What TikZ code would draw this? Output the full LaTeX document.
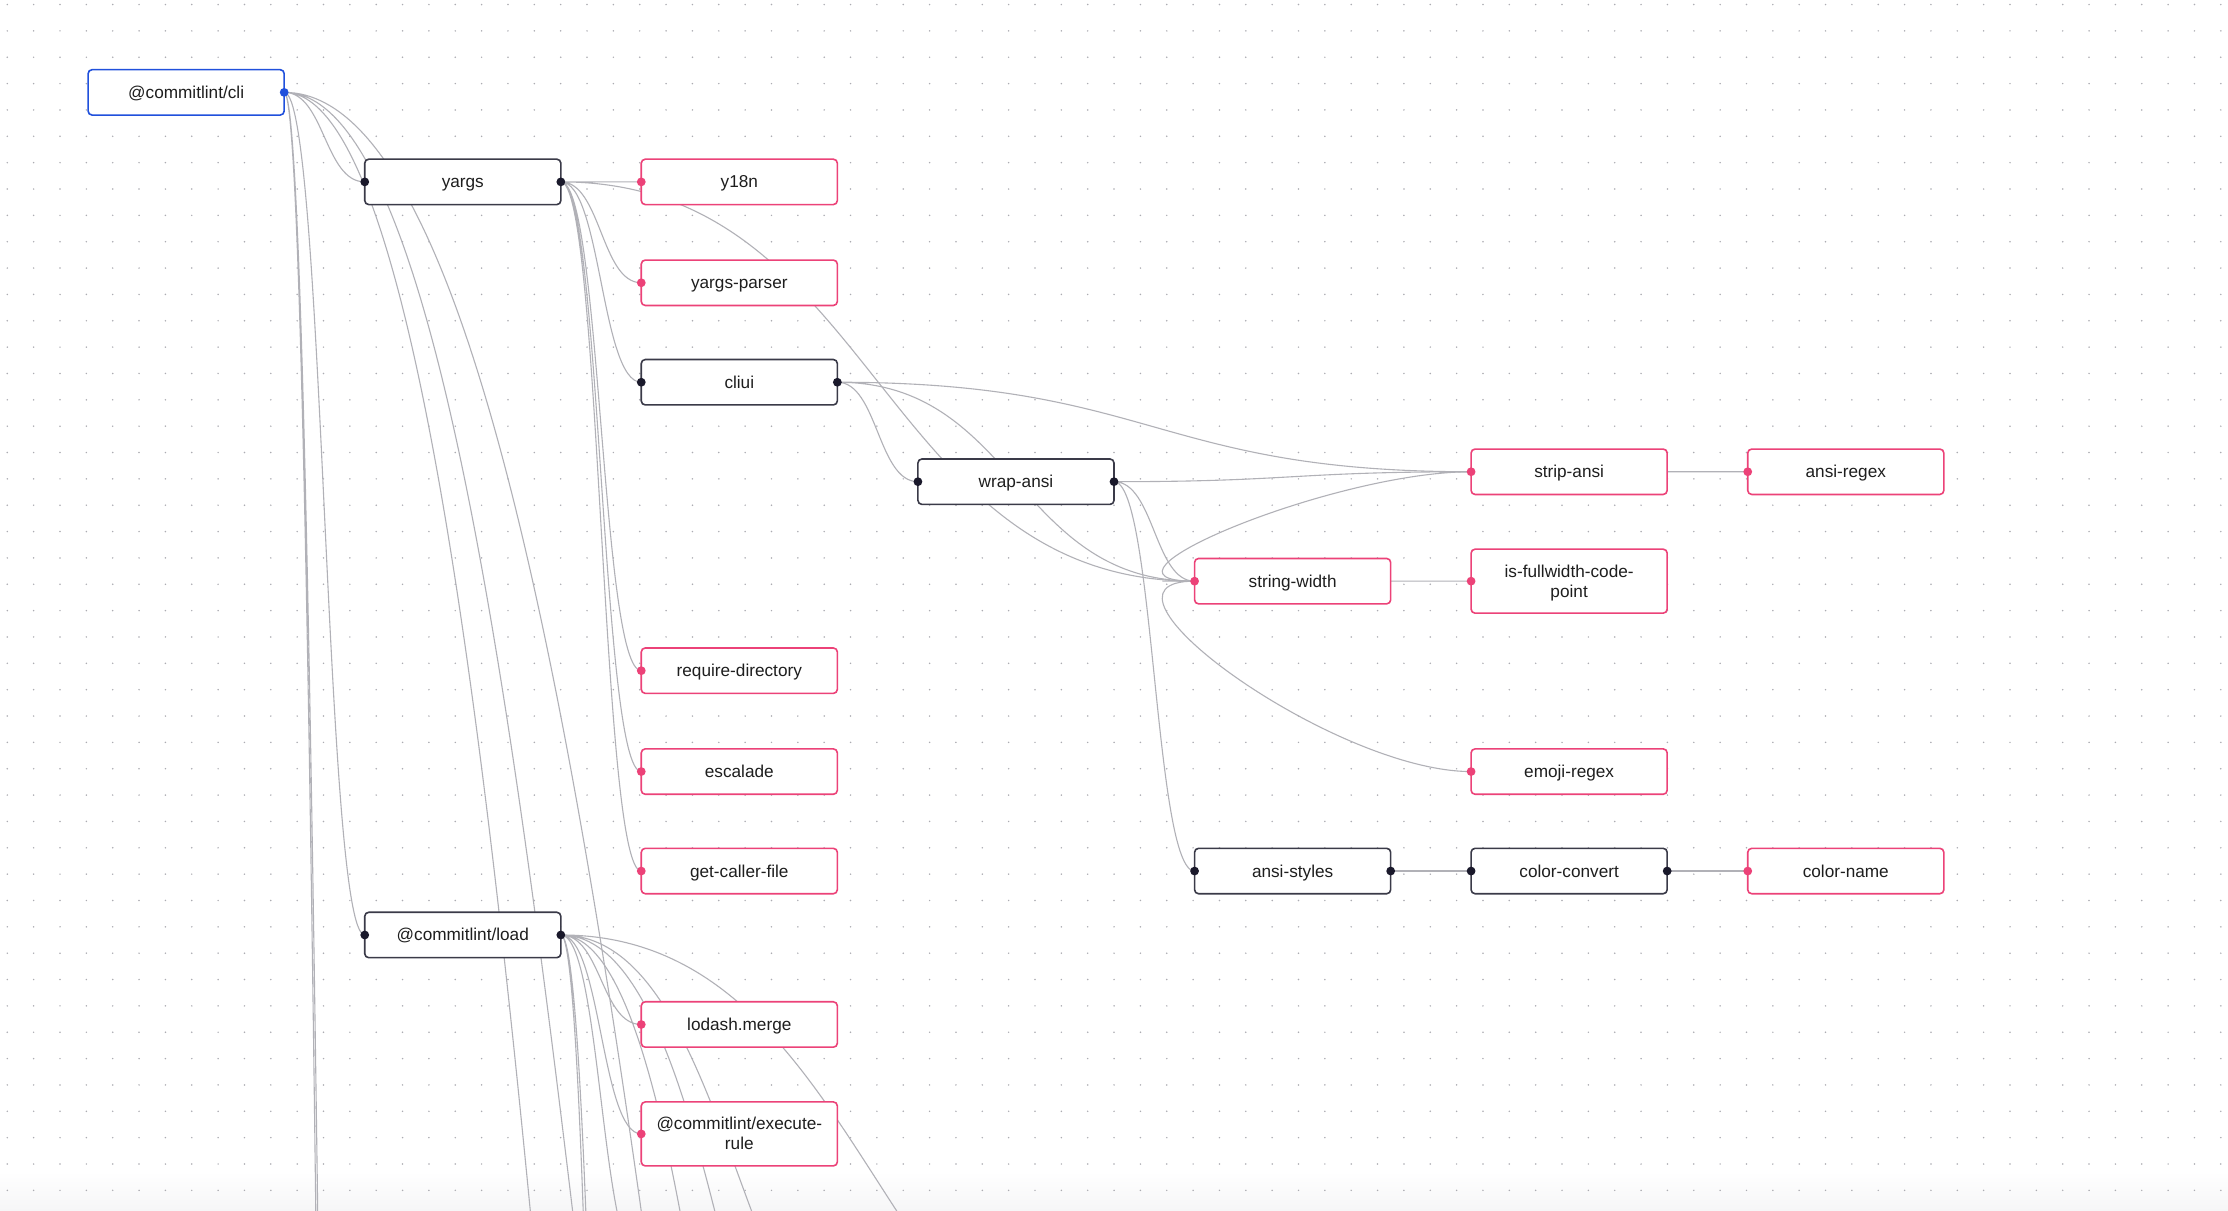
\documentclass[tikz,border=0pt]{standalone}
\usepackage{fontspec}
\setmainfont{Liberation Sans}
\usetikzlibrary{calc}

\definecolor{edgegray}{RGB}{177,177,183}
\definecolor{pinkline}{RGB}{236,66,120}
\definecolor{darkline}{RGB}{58,58,72}
\definecolor{handledark}{RGB}{26,25,43}
\definecolor{blueline}{RGB}{32,80,220}
\definecolor{gridgray}{RGB}{172,172,178}
\definecolor{labeltext}{RGB}{30,30,30}
\definecolor{fadegray}{RGB}{246,246,247}

% invisible struts that fix the top and bottom of a two-line label
\newcommand\labeltop{\rule{0pt}{7.8pt}}
\newcommand\labelbottom{\rule[-1.8pt]{0pt}{1.8pt}}

\pgfdeclarelayer{canvas}
\pgfdeclarelayer{links}
\pgfsetlayers{canvas,links,main}

\begin{document}
\begin{tikzpicture}[x=0.7105pt,y=-0.7105pt,
  pkg/.style={draw, line width=0.8pt, rounded corners=2pt, fill=white,
    minimum width=98.05pt, minimum height=22.7pt, inner sep=0pt, outer sep=0pt,
    font=\fontsize{8.6}{10}\selectfont, text=labeltext, align=center,
    text height=7.8pt, text depth=1.8pt},
  leaf/.style={pkg, draw=pinkline},
  inner/.style={pkg, draw=darkline},
  root/.style={pkg, draw=blueline},
  tall/.style={minimum height=32pt, text height={}, text depth={}},
  dep/.style={draw=edgegray, line width=0.55pt},
  % bezier link leaving the right handle, entering the left handle
  rf/.style={to path={let \p1=(\tikztostart), \p2=(\tikztotarget) in
    .. controls ({0.5*(\x1+\x2)},\y1) and ({0.5*(\x1+\x2)},\y2) .. (\tikztotarget)}},
  % bezier link leaving a left handle, entering the left handle
  rfl/.style={to path={let \p1=(\tikztostart), \p2=(\tikztotarget) in
    .. controls ({\x1-6.25*sqrt(0.7105*(\x2-\x1))},\y1) and ({0.5*(\x1+\x2)},\y2) .. (\tikztotarget)}},
  hdark/.style={fill=handledark},
  hpink/.style={fill=pinkline},
  hblue/.style={fill=blueline},
]
\useasboundingbox (0,0) rectangle (1568,852);

% canvas: white ground, dotted grid, soft fade at the lower edge
\begin{pgfonlayer}{canvas}
  \fill[white] (0,0) rectangle (1568,852);
  \shade[top color=white, bottom color=fadegray] (0,824) rectangle (1568,852);
  \foreach \i in {0,...,84}{
    \foreach \j in {0,...,45}{
      \fill[gridgray] ({5.14+18.545*\i},{3.2+18.545*\j}) circle (0.42pt);
    }
  }
\end{pgfonlayer}

% packages
\node[root] (cli) at (131,65) {@commitlint/cli};
\node[inner] (yargs) at (325.7,128) {yargs};
\node[leaf] (y18n) at (520.3,128) {y18n};
\node[leaf] (yparser) at (520.3,199) {yargs-parser};
\node[inner] (cliui) at (520.3,269) {cliui};
\node[inner] (wrap) at (715,339) {wrap-ansi};
\node[leaf] (strip) at (1104.3,332) {strip-ansi};
\node[leaf] (aregex) at (1299,332) {ansi-regex};
\node[leaf] (swidth) at (909.7,409) {string-width};
\node[leaf,tall] (isfw) at (1104.3,409) {\labeltop is-fullwidth-code-\\point\labelbottom};
\node[leaf] (reqdir) at (520.3,472) {require-directory};
\node[leaf] (escalade) at (520.3,543) {escalade};
\node[leaf] (gcf) at (520.3,613) {get-caller-file};
\node[leaf] (emoji) at (1104.3,543) {emoji-regex};
\node[inner] (astyles) at (909.7,613) {ansi-styles};
\node[inner] (cconv) at (1104.3,613) {color-convert};
\node[leaf] (cname) at (1299,613) {color-name};
\node[inner] (load) at (325.7,658) {@commitlint/load};
\node[leaf] (lmerge) at (520.3,721) {lodash.merge};
\node[leaf,tall] (exrule) at (520.3,798) {\labeltop @commitlint/execute-\\rule\labelbottom};

% far ends of links that continue below the visible area
\coordinate (cliFarA) at (256.7,2730);
\coordinate (cliFarB) at (256.7,2400);
\coordinate (cliFarC) at (646,2790);
\coordinate (cliFarD) at (646,1980);
\coordinate (cliFarE) at (840.7,2730);
\coordinate (loadFarA) at (451.3,890);
\coordinate (loadFarB) at (451.3,1780);
\coordinate (loadFarC) at (451.3,2100);
\coordinate (loadFarD) at (646,1000);
\coordinate (loadFarE) at (646,1190);
\coordinate (loadFarF) at (646,1610);
\coordinate (loadFarG) at (840.7,1005);

% dependency links
\begin{pgfonlayer}{links}
  \path[dep]
    (cli.east) to[rf] (yargs.west)
    (cli.east) to[rf] (load.west)
    (cli.east) to[rf] (cliFarA)
    (cli.east) to[rf] (cliFarB)
    (cli.east) to[rf] (cliFarC)
    (cli.east) to[rf] (cliFarD)
    (cli.east) to[rf] (cliFarE);
  \path[dep]
    (yargs.east) to[rf] (y18n.west)
    (yargs.east) to[rf] (yparser.west)
    (yargs.east) to[rf] (cliui.west)
    (yargs.east) to[rf] (swidth.west)
    (yargs.east) to[rf] (reqdir.west)
    (yargs.east) to[rf] (escalade.west)
    (yargs.east) to[rf] (gcf.west);
  \path[dep]
    (cliui.east) to[rf] (wrap.west)
    (cliui.east) to[rf] (strip.west)
    (cliui.east) to[rf] (swidth.west);
  \path[dep]
    (wrap.east) to[rf] (strip.west)
    (wrap.east) to[rf] (swidth.west)
    (wrap.east) to[rf] (astyles.west);
  \path[dep]
    (swidth.west) to[rfl] (strip.west)
    (swidth.west) to[rfl] (isfw.west)
    (swidth.west) to[rfl] (emoji.west)
    (strip.west) to[rfl] (aregex.west);
  \path[dep]
    (astyles.east) to[rf] (cconv.west)
    (cconv.east) to[rf] (cname.west);
  \path[dep]
    (load.east) to[rf] (lmerge.west)
    (load.east) to[rf] (exrule.west)
    (load.east) to[rf] (loadFarA)
    (load.east) to[rf] (loadFarB)
    (load.east) to[rf] (loadFarC)
    (load.east) to[rf] (loadFarD)
    (load.east) to[rf] (loadFarE)
    (load.east) to[rf] (loadFarF)
    (load.east) to[rf] (loadFarG);
\end{pgfonlayer}

% connection handles
\fill[hblue] (cli.east) circle (2.2pt);
\foreach \n in {yargs,cliui,wrap,astyles,cconv,load}{
  \fill[hdark] (\n.west) circle (2.2pt);
  \fill[hdark] (\n.east) circle (2.2pt);
}
\foreach \n in {y18n,yparser,strip,aregex,swidth,isfw,reqdir,escalade,gcf,emoji,cname,lmerge,exrule}{
  \fill[hpink] (\n.west) circle (2.2pt);
}
\end{tikzpicture}
\end{document}
